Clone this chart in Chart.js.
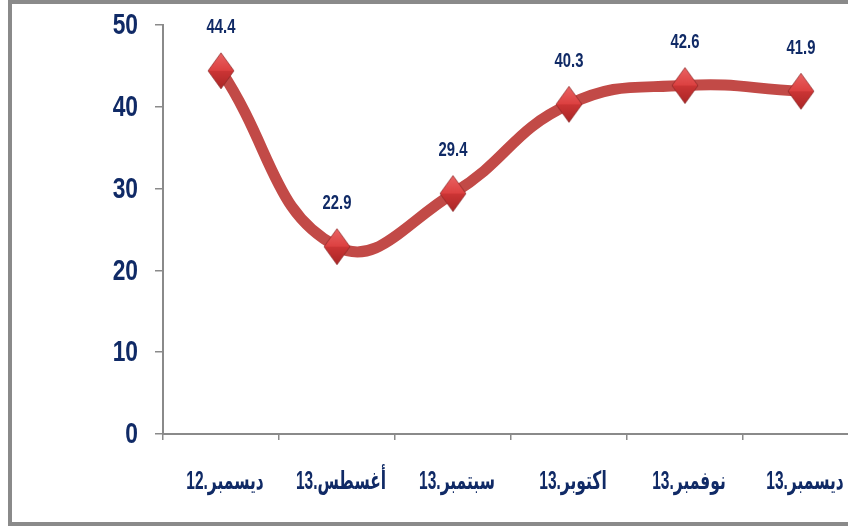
<!DOCTYPE html>
<html>
<head>
<meta charset="utf-8">
<script src="https://cdn.jsdelivr.net/npm/chart.js@4/dist/chart.umd.min.js"></script>
<style>
  body { margin: 0; width: 848px; height: 527px; overflow: hidden; background: #fff; position: relative; }
  #frame { position: absolute; left: 8px; top: 0; width: 900px; height: 518px; border: 4px solid #8a8a8a; }
  #wrap { position: absolute; left: 0; top: 0; width: 900px; height: 527px; }
</style>
</head>
<body>
<div id="frame"></div>
<div id="wrap"><canvas id="chart" width="900" height="527"></canvas></div>
<script>
// Chart data
const categories = ['12.ديسمبر', '13.أغسطس', '13.سبتمبر', '13.اكتوبر', '13.نوفمبر', '13.ديسمبر'];
const values = [44.4, 22.9, 29.4, 40.3, 42.6, 41.9];
const yTicks = [0, 10, 20, 30, 40, 50];

const navy = '#102a66';
const font = "'Liberation Sans', 'DejaVu Sans', sans-serif";

// Build a shaded diamond for the markers
function makeDiamond() {
  const c = document.createElement('canvas');
  c.width = 28; c.height = 38;
  const g = c.getContext('2d');
  const w = 28, h = 38;
  // top half
  let grad = g.createLinearGradient(0, 0, 0, h / 2);
  grad.addColorStop(0, '#ea6565');
  grad.addColorStop(1, '#dc4040');
  g.fillStyle = grad;
  g.beginPath();
  g.moveTo(w / 2, 1); g.lineTo(w - 1, h / 2); g.lineTo(1, h / 2); g.closePath();
  g.fill();
  // bottom half
  grad = g.createLinearGradient(0, h / 2, 0, h);
  grad.addColorStop(0, '#cc3535');
  grad.addColorStop(1, '#a82525');
  g.fillStyle = grad;
  g.beginPath();
  g.moveTo(1, h / 2); g.lineTo(w - 1, h / 2); g.lineTo(w / 2, h - 1); g.closePath();
  g.fill();
  g.strokeStyle = 'rgba(130,35,35,0.65)';
  g.lineWidth = 1;
  g.beginPath();
  g.moveTo(w / 2, 1); g.lineTo(w - 1, h / 2); g.lineTo(w / 2, h - 1); g.lineTo(1, h / 2); g.closePath();
  g.stroke();
  return c;
}

// Draw text squeezed horizontally
function narrowText(ctx, text, x, y, align, squeeze) {
  ctx.save();
  ctx.translate(x, y);
  ctx.scale(squeeze, 1);
  ctx.textAlign = align;
  ctx.fillText(text, 0, 0);
  ctx.restore();
}

// Axis labels and value labels
const textLayer = {
  id: 'textLayer',
  afterDraw(chart) {
    const ctx = chart.ctx;
    const xs = chart.scales.x;
    const ys = chart.scales.y;
    ctx.save();
    ctx.fillStyle = navy;
    ctx.textBaseline = 'middle';

    // y tick labels
    ctx.font = 'bold 30px ' + font;
    yTicks.forEach(v => {
      narrowText(ctx, String(v), 138, ys.getPixelForValue(v) + 1, 'right', 0.76);
    });

    // x category labels
    ctx.font = 'bold 25px ' + font;
    categories.forEach((c, i) => {
      narrowText(ctx, c, xs.getPixelForValue(i) + 4, 482, 'center', 0.62);
    });

    // value labels above points
    ctx.font = 'bold 19.5px ' + font;
    const meta = chart.getDatasetMeta(0);
    meta.data.forEach((pt, i) => {
      narrowText(ctx, values[i].toFixed(1), pt.x, pt.y - 43, 'center', 0.76);
    });
    ctx.restore();
  }
};

const ctx = document.getElementById('chart').getContext('2d');
new Chart(ctx, {
  type: 'line',
  data: {
    labels: categories,
    datasets: [{
      data: values,
      borderColor: '#c24a47',
      borderWidth: 11,
      tension: 0.45,
      pointStyle: makeDiamond(),
      pointRadius: 14,
      pointHoverRadius: 14
    }]
  },
  options: {
    responsive: false,
    animation: false,
    events: [],
    layout: { padding: { top: 25, right: 41, left: 0, bottom: 0 } },
    plugins: { legend: { display: false }, tooltip: { enabled: false } },
    scales: {
      x: {
        offset: true,
        grid: { display: true, drawOnChartArea: false, offset: true, color: '#8a8a8a', tickLength: 6, lineWidth: 1.5 },
        border: { color: '#8a8a8a', width: 2 },
        ticks: { display: false, autoSkip: false },
        afterFit: s => { s.height = 93; }
      },
      y: {
        min: 0,
        max: 50,
        afterBuildTicks: s => { s.ticks = yTicks.map(v => ({ value: v })); },
        grid: { display: true, drawOnChartArea: false, color: '#8a8a8a', tickLength: 8, lineWidth: 1.5 },
        border: { color: '#8a8a8a', width: 2 },
        ticks: { display: false },
        afterFit: s => { s.width = 163; }
      }
    }
  },
  plugins: [textLayer]
});
</script>
</body>
</html>
